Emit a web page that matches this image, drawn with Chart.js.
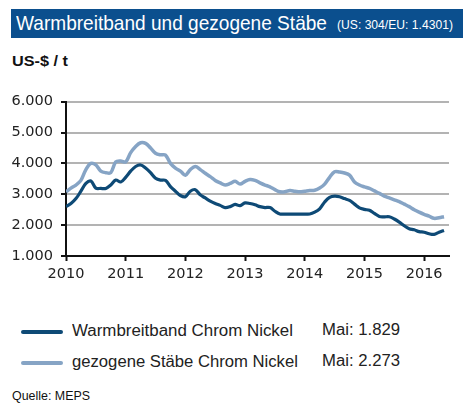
<!DOCTYPE html>
<html>
<head>
<meta charset="utf-8">
<script src="https://cdn.jsdelivr.net/npm/chart.js@4.4.1/dist/chart.umd.min.js"></script>
<style>
  body { margin: 0; width: 471px; height: 412px; background: #fff; font-family: Arial, "Liberation Sans", sans-serif; position: relative; overflow: hidden; }
  .fit { position: absolute; display: inline-block; white-space: nowrap; transform-origin: 0 0; }
  .banner { position: absolute; left: 11px; top: 9px; width: 452px; height: 29px; background: #0b4f8e; }
  .title { left: 16px; top: 11px; font-size: 21px; color: #fff; }
  .sub { left: 337px; top: 17px; font-size: 13px; color: #fff; }
  .unit { left: 12px; top: 52px; font-size: 15px; font-weight: bold; color: #111; }
  #chartBox { position: absolute; left: 0; top: 85px; }
  .swatch { position: absolute; left: 21px; width: 42px; border-radius: 2px; }
  .legend-label { left: 72px; font-size: 16px; color: #222; }
  .legend-last { left: 322px; font-size: 16px; color: #222; }
  .source { left: 12px; top: 389px; font-size: 12px; color: #111; }
</style>
</head>
<body>
<div class="banner"></div>
<span class="fit title" data-w="311">Warmbreitband und gezogene Stäbe</span>
<span class="fit sub" data-w="116">(US: 304/EU: 1.4301)</span>
<span class="fit unit" data-w="56">US-$ / t</span>
<canvas id="chartBox" width="471" height="210"></canvas>
<div id="legend"></div>
<span class="fit source" data-w="78">Quelle: MEPS</span>
<script>
// Monthly prices, Jan 2010 .. May 2016 (US-$ / t)
const startYear = 2010;
const yearLabels = ["2010", "2011", "2012", "2013", "2014", "2015", "2016"];
const lastMonthLabel = "Mai";

const warmbreitband = [
  2600, 2700, 2860, 3100, 3350, 3430, 3200, 3190, 3190, 3300, 3460, 3400,
  3550, 3750, 3900, 3950, 3850, 3700, 3520, 3460, 3450, 3250, 3100, 2960,
  2920, 3100, 3150, 2980, 2880, 2780, 2700, 2640, 2570, 2600, 2670, 2630,
  2720, 2700, 2660, 2600, 2570, 2570, 2450, 2360, 2360, 2360, 2360, 2360,
  2360, 2360, 2420, 2530, 2750, 2900, 2940, 2920, 2860, 2800, 2680, 2560,
  2510, 2480, 2380, 2280, 2270, 2270, 2200, 2100, 1980, 1880, 1850, 1790,
  1770, 1720, 1700, 1770, 1829
];

const gezogeneStaebe = [
  3080, 3200, 3300, 3450, 3800, 4000, 3950, 3750, 3700, 3700, 4050, 4080,
  4050, 4350, 4550, 4670, 4650, 4500, 4330, 4280, 4270, 4000, 3850, 3750,
  3620, 3800, 3900, 3800, 3680, 3570, 3450, 3370, 3300, 3350, 3420, 3330,
  3420, 3480, 3450, 3370, 3300, 3240, 3150, 3080, 3080, 3120, 3100, 3080,
  3100, 3120, 3130, 3200, 3330, 3550, 3730, 3720, 3690, 3620, 3400, 3300,
  3240, 3190, 3110, 3030, 2940, 2880, 2820, 2760, 2680, 2600, 2500, 2420,
  2350, 2290, 2220, 2240, 2273
];

// German thousands separator: 6000 -> "6.000"
function fmt(v) {
  return String(Math.round(v)).replace(/\B(?=(\d{3})+(?!\d))/g, ".");
}

const toPoints = (arr) => arr.map((v, i) => ({ x: i, y: v }));
const tickFont = { family: "'DejaVu Sans', Verdana, sans-serif", size: 14.5 };

const config = {
  type: "line",
  data: {
    datasets: [
      {
        label: "Warmbreitband Chrom Nickel",
        data: toPoints(warmbreitband),
        borderColor: "#0e4a76",
        borderWidth: 3.2,
        pointRadius: 0,
        tension: 0.35,
        fill: false,
      },
      {
        label: "gezogene Stäbe Chrom Nickel",
        data: toPoints(gezogeneStaebe),
        borderColor: "#86a4c5",
        borderWidth: 3.5,
        pointRadius: 0,
        tension: 0.35,
        fill: false,
      },
    ],
  },
  options: {
    responsive: false,
    animation: false,
    layout: { padding: { top: 16, right: 22, left: 0, bottom: 0 } },
    scales: {
      x: {
        type: "linear",
        min: 0,
        max: 77,
        afterBuildTicks: (scale) => {
          scale.ticks = yearLabels.map((_, i) => ({ value: i * 12 }));
        },
        afterFit: (scale) => { scale.height = 39; },
        ticks: {
          callback: (v) => yearLabels[v / 12],
          color: "#222",
          font: tickFont,
          padding: 5,
          maxRotation: 0,
        },
        grid: {
          drawOnChartArea: false,
          drawTicks: true,
          tickLength: 5,
          tickColor: "#111",
          tickWidth: 2,
        },
        border: { color: "#111", width: 2 },
      },
      y: {
        min: 1000,
        max: 6000,
        afterFit: (scale) => { scale.width = 66; },
        ticks: {
          stepSize: 1000,
          callback: (v) => fmt(v),
          color: "#222",
          font: tickFont,
          padding: 8,
        },
        grid: {
          color: "#b3b3b3",
          lineWidth: 2,
          tickLength: 5,
          tickColor: "#111",
          tickWidth: 2,
        },
        border: { color: "#111", width: 2 },
      },
    },
    plugins: {
      legend: { display: false },
      tooltip: { enabled: false },
    },
  },
};

const ctx = document.getElementById("chartBox").getContext("2d");
const chart = new Chart(ctx, config);

// HTML legend built from the datasets, with the latest value
const legendEl = document.getElementById("legend");
const legendWidths = [[221, 78], [226, 78]];
chart.data.datasets.forEach((ds, i) => {
  const y = 332 + i * 31;
  const last = ds.data[ds.data.length - 1].y;
  legendEl.insertAdjacentHTML("beforeend",
    `<div class="swatch" style="top:${y - ds.borderWidth / 2}px;background:${ds.borderColor};height:${ds.borderWidth}px"></div>` +
    `<span class="fit legend-label" style="top:${y - 10}px" data-w="${legendWidths[i][0]}">${ds.label}</span>` +
    `<span class="fit legend-last" style="top:${y - 11}px" data-w="${legendWidths[i][1]}">${lastMonthLabel}: ${fmt(last)}</span>`);
});

// stretch text horizontally to the widths
document.querySelectorAll(".fit").forEach((el) => {
  const w = el.getBoundingClientRect().width;
  el.style.transform = `scaleX(${(+el.dataset.w / w).toFixed(3)})`;
});
</script>
</body>
</html>
